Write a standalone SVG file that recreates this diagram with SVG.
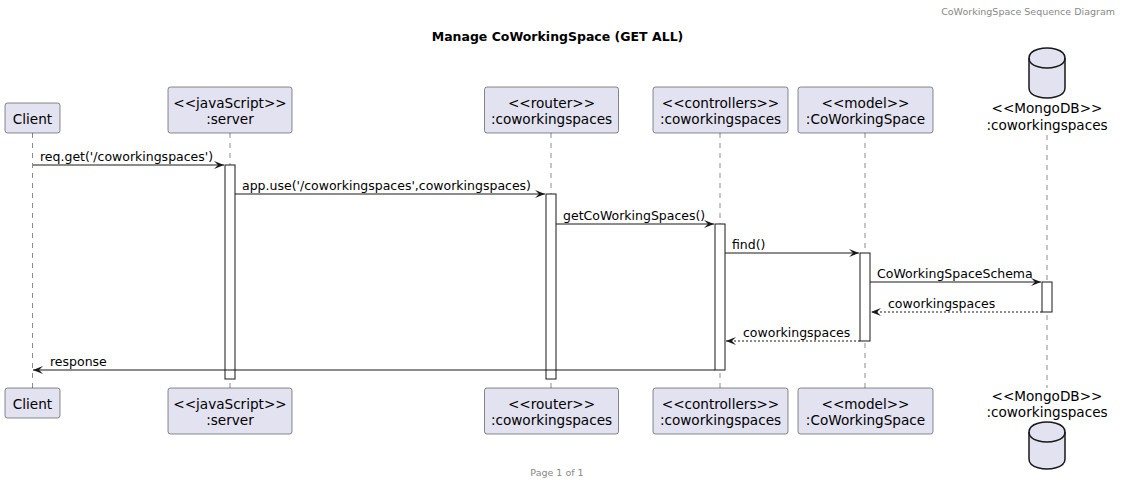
<svg xmlns="http://www.w3.org/2000/svg" width="1122" height="486" viewBox="0 0 1122 486">
<style>
  .box { fill: #E2E2F0; stroke: #181818; stroke-width: 0.5; }
  .db { fill: #E2E2F0; stroke: #181818; stroke-width: 1.5; }
  .dbin { fill: none; stroke: #181818; stroke-width: 1.5; }
  .life { stroke: #181818; stroke-width: 0.5; stroke-dasharray: 5,5; fill: none; }
  .act { fill: #FFFFFF; stroke: #181818; stroke-width: 1; }
  .msg { stroke: #181818; stroke-width: 1; fill: none; marker-end: url(#arrow); }
  .ret { stroke: #181818; stroke-width: 1; fill: none; stroke-dasharray: 2,2; marker-end: url(#arrow); }
  .pt { font-family: "DejaVu Sans", "Liberation Sans", sans-serif; font-size: 13.6px; fill: #000000; text-anchor: middle; }
  .ml { font-family: "DejaVu Sans", "Liberation Sans", sans-serif; font-size: 12.5px; fill: #000000; }
  .title { font-family: "DejaVu Sans", "Liberation Sans", sans-serif; font-size: 12.5px; font-weight: bold; fill: #000000; text-anchor: middle; }
  .small { font-family: "DejaVu Sans", "Liberation Sans", sans-serif; font-size: 9.5px; fill: #888888; }
</style>
<defs>
  <marker id="arrow" viewBox="0 0 10 8" refX="10" refY="4" markerWidth="10" markerHeight="8" markerUnits="userSpaceOnUse" orient="auto">
    <path d="M0,0 L10,4 L0,8 L4,4 Z" fill="#181818"/>
  </marker>
</defs>
<rect width="1122" height="486" fill="#FFFFFF"/>

<text class="small" x="1115" y="15" text-anchor="end">CoWorkingSpace Sequence Diagram</text>
<text class="title" x="557.5" y="41">Manage CoWorkingSpace (GET ALL)</text>
<text class="small" x="557" y="476" text-anchor="middle">Page 1 of 1</text>

<g id="lifelines">
  <line class="life" x1="32.5" y1="133" x2="32.5" y2="388"/>
  <line class="life" x1="230" y1="133" x2="230" y2="388"/>
  <line class="life" x1="551" y1="133" x2="551" y2="388"/>
  <line class="life" x1="720" y1="133" x2="720" y2="388"/>
  <line class="life" x1="865" y1="133" x2="865" y2="388"/>
  <line class="life" x1="1047" y1="135" x2="1047" y2="388"/>
</g>

<g id="Client">
  <rect class="box" x="5" y="103" width="55" height="30" rx="2.5"/>
  <text class="pt" x="32.5" y="124">Client</text>
  <rect class="box" x="5" y="388" width="55" height="30" rx="2.5"/>
  <text class="pt" x="32.5" y="409">Client</text>
</g>

<g id="server">
  <rect class="box" x="168" y="87" width="124" height="46" rx="2.5"/>
  <text class="pt" x="230" y="108">&lt;&lt;javaScript&gt;&gt;</text>
  <text class="pt" x="230" y="124">:server</text>
  <rect class="box" x="168" y="388" width="124" height="46" rx="2.5"/>
  <text class="pt" x="230" y="409">&lt;&lt;javaScript&gt;&gt;</text>
  <text class="pt" x="230" y="425">:server</text>
  <rect class="act" x="225" y="165" width="10" height="214"/>
</g>

<g id="router">
  <rect class="box" x="484.5" y="87" width="134" height="46" rx="2.5"/>
  <text class="pt" x="551.5" y="108">&lt;&lt;router&gt;&gt;</text>
  <text class="pt" x="551.5" y="124">:coworkingspaces</text>
  <rect class="box" x="484.5" y="388" width="134" height="46" rx="2.5"/>
  <text class="pt" x="551.5" y="409">&lt;&lt;router&gt;&gt;</text>
  <text class="pt" x="551.5" y="425">:coworkingspaces</text>
  <rect class="act" x="546" y="194" width="10" height="185"/>
</g>

<g id="controllers">
  <rect class="box" x="653" y="87" width="135" height="46" rx="2.5"/>
  <text class="pt" x="720.5" y="108">&lt;&lt;controllers&gt;&gt;</text>
  <text class="pt" x="720.5" y="124">:coworkingspaces</text>
  <rect class="box" x="653" y="388" width="135" height="46" rx="2.5"/>
  <text class="pt" x="720.5" y="409">&lt;&lt;controllers&gt;&gt;</text>
  <text class="pt" x="720.5" y="425">:coworkingspaces</text>
  <rect class="act" x="715" y="224" width="10" height="146"/>
</g>

<g id="model">
  <rect class="box" x="798" y="87" width="135" height="46" rx="2.5"/>
  <text class="pt" x="865.5" y="108">&lt;&lt;model&gt;&gt;</text>
  <text class="pt" x="865.5" y="124">:CoWorkingSpace</text>
  <rect class="box" x="798" y="388" width="135" height="46" rx="2.5"/>
  <text class="pt" x="865.5" y="409">&lt;&lt;model&gt;&gt;</text>
  <text class="pt" x="865.5" y="425">:CoWorkingSpace</text>
  <rect class="act" x="860" y="253" width="10" height="88"/>
</g>

<g id="mongodb">
  <path class="db" d="M1029,58 C1029,48 1047,48 1047,48 C1047,48 1065,48 1065,58 L1065,88 C1065,98 1047,98 1047,98 C1047,98 1029,98 1029,88 Z"/>
  <path class="dbin" d="M1029,58 C1029,68 1047,68 1047,68 C1047,68 1065,68 1065,58"/>
  <text class="pt" x="1047" y="113">&lt;&lt;MongoDB&gt;&gt;</text>
  <text class="pt" x="1047" y="130">:coworkingspaces</text>
  <text class="pt" x="1047" y="401">&lt;&lt;MongoDB&gt;&gt;</text>
  <text class="pt" x="1047" y="417">:coworkingspaces</text>
  <path class="db" d="M1029,432 C1029,422 1047,422 1047,422 C1047,422 1065,422 1065,432 L1065,459 C1065,469 1047,469 1047,469 C1047,469 1029,469 1029,459 Z"/>
  <path class="dbin" d="M1029,432 C1029,442 1047,442 1047,442 C1047,442 1065,442 1065,432"/>
  <rect class="act" x="1042" y="282" width="10" height="30"/>
</g>

<g id="connectors">
  <line class="msg" x1="33" y1="165" x2="224" y2="165"/>
  <text class="ml" x="40" y="161">req.get('/coworkingspaces')</text>
  <line class="msg" x1="235" y1="194" x2="545" y2="194"/>
  <text class="ml" x="242" y="190">app.use('/coworkingspaces',coworkingspaces)</text>
  <line class="msg" x1="556" y1="224" x2="714" y2="224"/>
  <text class="ml" x="563" y="220">getCoWorkingSpaces()</text>
  <line class="msg" x1="725" y1="253" x2="859" y2="253"/>
  <text class="ml" x="732" y="249">find()</text>
  <line class="msg" x1="870" y1="282" x2="1041" y2="282"/>
  <text class="ml" x="877" y="278">CoWorkingSpaceSchema</text>
  <line class="ret" x1="1042" y1="312" x2="871" y2="312"/>
  <text class="ml" x="888" y="308">coworkingspaces</text>
  <line class="ret" x1="860" y1="341" x2="726" y2="341"/>
  <text class="ml" x="743" y="337">coworkingspaces</text>
  <line class="msg" x1="715" y1="370" x2="33" y2="370"/>
  <text class="ml" x="50" y="366">response</text>
</g>
</svg>
